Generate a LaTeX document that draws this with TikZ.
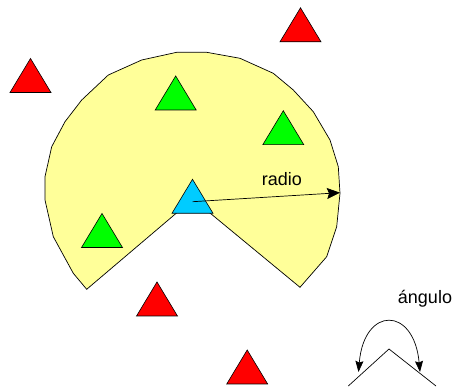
\documentclass[tikz,border=0pt]{standalone}
\usepackage{fontspec}
\setmainfont{Liberation Sans}
\usetikzlibrary{arrows.meta}
\definecolor{sectoryellow}{HTML}{FFFF99}
\definecolor{tgreen}{HTML}{00FF00}
\definecolor{tblue}{HTML}{00CCFF}
\definecolor{tred}{HTML}{FF0000}
\newcommand\mytri[3]{\draw[tri,fill=#3] (#1-20.5,#2+34) -- (#1,#2) -- (#1+20.5,#2+34) -- cycle;}
\begin{document}
\begin{tikzpicture}[x=1pt,y=-1pt,
  tri/.style={draw=black,line width=0.6pt,line join=miter},
  outline/.style={draw=black,line width=0.7pt},
  lbl/.style={font=\fontsize{18}{20}\selectfont,inner sep=0pt,anchor=center}]
\useasboundingbox (0,0) rectangle (456,390);
% sector
\path[outline,fill=sectoryellow] (193,199) -- (86.7,289.3) -- (73.3,273.3) -- (53.3,236.7) -- (45,200) -- (45,176.7) -- (51.7,146.7) -- (65,121.7) -- (81.7,100) -- (108.3,75) -- (141.7,60) -- (176.7,52.3) -- (206.7,52.3) -- (240,58.3) -- (273.3,73.3) -- (293.3,90) -- (313.3,111.7) -- (330,140) -- (338.3,166.7) -- (340,193.3) -- (336.7,226.7) -- (326.7,256.7) -- (300,287.3) -- cycle;
% green triangles
\mytri{175.7}{76}{tgreen}
\mytri{283.3}{110.7}{tgreen}
\mytri{102}{213.5}{tgreen}
% blue triangle
\mytri{192.5}{179.3}{tblue}
% radius arrow
\coordinate (c) at (192.7,201.7);
\coordinate (r) at (340,192.7);
\draw[line width=0.7pt,-{Stealth[length=13pt,width=11pt,inset=2pt]}] (c) -- (r);
\node[lbl] (radio) at (282,179) {radio};
% red triangles
\mytri{30.5}{58.5}{tred}
\mytri{300.5}{7.8}{tred}
\mytri{157}{282}{tred}
\mytri{247.2}{350}{tred}
% angle symbol
\coordinate (a1) at (348.3,386);
\coordinate (a0) at (389,349);
\coordinate (a2) at (436,386);
\draw[line width=0.7pt] (a1) -- (a0) -- (a2);
\coordinate (s1) at (358.5,372);
\coordinate (s2) at (420,372);
\draw[line width=0.7pt,{Stealth[length=11pt,width=8pt,inset=1.5pt]}-{Stealth[length=11pt,width=8pt,inset=1.5pt]}] (s1) .. controls (364,306) and (414,306) .. (s2);
\node[lbl] (angulo) at (425,298.5) {ángulo};
\end{tikzpicture}
\end{document}
